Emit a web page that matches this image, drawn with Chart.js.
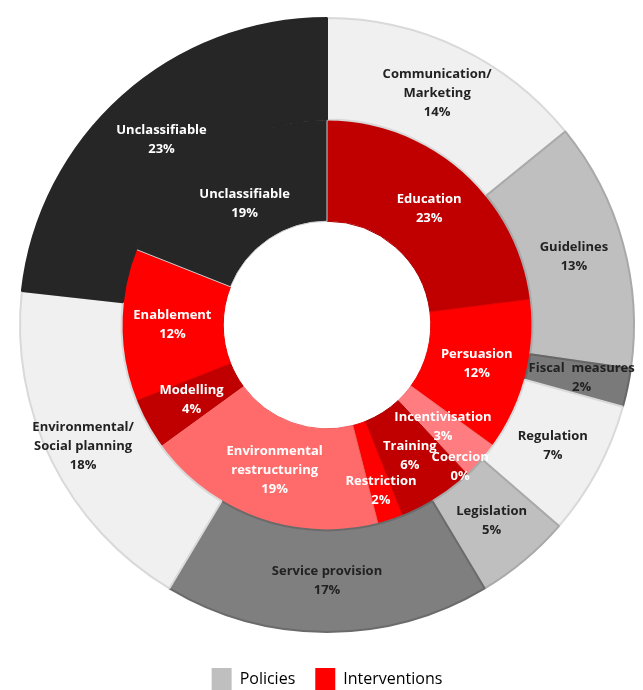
<!DOCTYPE html>
<html>
<head>
<meta charset="utf-8">
<script src="https://cdn.jsdelivr.net/npm/chart.js@4/dist/chart.umd.min.js"></script>
<style>
  html, body { margin: 0; padding: 0; background: #fff; }
  #wrap { width: 643px; height: 690px; position: relative; }
</style>
</head>
<body>
<div id="wrap"><canvas id="policyChart"></canvas></div>
<script>
// outer ring: policies
const policyLabels = [['Communication/', 'Marketing'], ['Guidelines'], ['Fiscal  measures'], ['Regulation'], ['Legislation'], ['Service provision'], ['Environmental/', 'Social planning'], ['Unclassifiable']]
const policyValues = [14, 13, 2, 7, 5, 17, 18, 23]

// inner ring: interventions
const interventionLabels = [['Education'], ['Persuasion'], ['Incentivisation'], ['Coercion'], ['Training'], ['Restriction'], ['Environmental', 'restructuring'], ['Modelling'], ['Enablement'], ['Unclassifiable']]
const interventionValues = [23, 12, 3, 0, 6, 2, 19, 4, 12, 19]

const legendLabels = ['Policies', 'Interventions']

// colours
const policyFill = ['#f0f0f0', '#bfbfbf', '#7a7a7a', '#f0f0f0', '#bfbfbf', '#7f7f7f', '#f0f0f0', '#262626']
const policyBorder = ['#d9d9d9', '#a9a9a9', '#666666', '#d9d9d9', '#a9a9a9', '#6b6b6b', '#d9d9d9', '#262626']
const policyText = ['#222', '#222', '#222', '#222', '#222', '#222', '#222', '#fff']
const interventionFill = ['#c00000', '#ff0000', '#ff7c80', '#c00000', '#c00000', '#ff0000', '#ff6b6b', '#c00000', '#ff0000', '#262626']
const interventionBorder = ['#b00000', '#e80000', '#f07070', '#b00000', '#b00000', '#e80000', '#f06060', '#b00000', '#e80000', '#cccccc']

// a few labels sit further out (or in) than the slice centre
const labelNudge = { Coercion: 40, Restriction: 20, Unclassifiable: -8, 'Environmental/': 16, 'Fiscal  measures': 4 }

const sliceLabels = {
  id: 'sliceLabels',
  afterDatasetsDraw (chart) {
    const ctx = chart.ctx
    ctx.save()
    ctx.font = 'bold 13px "Open Sans"'
    ctx.textAlign = 'center'
    ctx.textBaseline = 'middle'
    chart.data.datasets.forEach((ds, di) => {
      const meta = chart.getDatasetMeta(di)
      meta.data.forEach((arc, i) => {
        const p = arc.getProps(['x', 'y', 'startAngle', 'endAngle', 'innerRadius', 'outerRadius'], true)
        const lines = ds.sliceNames[i]
        const mid = (p.startAngle + p.endAngle) / 2
        const r = (p.innerRadius + p.outerRadius) / 2 + (labelNudge[lines[0]] || 0)
        const cx = p.x + r * Math.cos(mid)
        const cy = p.y + r * Math.sin(mid)
        const all = lines.concat([ds.data[i] + '%'])
        const lh = 19
        ctx.fillStyle = ds.textColors[i]
        all.forEach((t, k) => {
          ctx.fillText(t, cx, cy + (k - (all.length - 1) / 2) * lh)
        })
      })
    })
    ctx.restore()
  }
}

const chart = new Chart(document.getElementById('policyChart').getContext('2d'), {
  type: 'doughnut',
  data: {
    datasets: [
      { label: 'Policies', data: policyValues, sliceNames: policyLabels, textColors: policyText, backgroundColor: policyFill, borderColor: policyBorder, borderWidth: 2 },
      { label: 'Interventions', data: interventionValues, sliceNames: interventionLabels, textColors: interventionFill.map(() => '#fff'), backgroundColor: interventionFill, borderColor: interventionBorder, borderWidth: 1 }
    ]
  },
  options: {
    responsive: true,
    maintainAspectRatio: false,
    animation: false,
    cutout: '33.8%',
    layout: { padding: { top: 2, left: 19, right: 8, bottom: -10 } },
    events: [],
    plugins: {
      tooltip: { enabled: false },
      legend: {
        display: true,
        position: 'bottom',
        onClick: null,
        labels: {
          boxWidth: 20,
          boxHeight: 22,
          padding: 20,
          color: '#333',
          font: { family: '"Open Sans"', size: 16 },
          generateLabels: () => legendLabels.map((t, i) => ({
            text: t,
            fillStyle: i === 0 ? '#bfbfbf' : '#ff0000',
            strokeStyle: i === 0 ? '#bfbfbf' : '#ff0000',
            lineWidth: 0,
            hidden: false,
            index: i
          }))
        }
      }
    }
  },
  plugins: [sliceLabels]
})
</script>
</body>
</html>
